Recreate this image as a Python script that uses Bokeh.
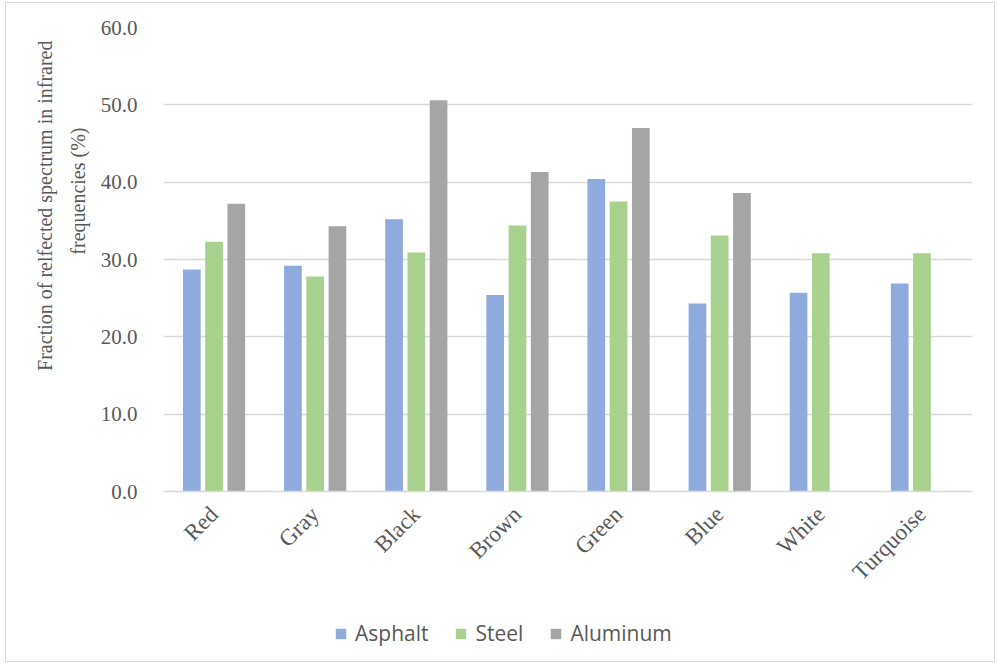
from bokeh.plotting import figure
from bokeh.layouts import column
from bokeh.models import (ColumnDataSource, FactorRange, Legend, LegendItem,
                          NumeralTickFormatter, FixedTicker, Title)
from bokeh.transform import dodge
from bokeh.embed import file_html
from bokeh.resources import INLINE

# Reflected infrared fraction (%) per roof colour and substrate
colors = ["Red", "Gray", "Black", "Brown", "Green", "Blue", "White", "Turquoise"]
asphalt = [28.7, 29.2, 35.2, 25.4, 40.4, 24.3, 25.7, 26.9]
steel = [32.3, 27.8, 30.9, 34.4, 37.5, 33.1, 30.8, 30.8]
aluminum = [37.2, 34.3, 50.6, 41.3, 47.0, 38.6, None, None]

series = [
    ("Asphalt", asphalt, "#8FAADC", -0.22),
    ("Steel", steel, "#A9D18E", 0.0),
    ("Aluminum", aluminum, "#A5A5A5", 0.22),
]

TEXT = "#595959"
GRID = "#D9D9D9"
SERIF = "Liberation Serif"

p = figure(
    x_range=FactorRange(*colors, range_padding=0),
    y_range=(0, 60),
    width=988, height=605,
    output_backend="svg", toolbar_location=None,
    min_border_left=157, min_border_right=22,
    min_border_top=24, min_border_bottom=117,
)
p.outline_line_color = None
p.background_fill_color = "white"
p.border_fill_color = "white"

for name, vals, col, off in series:
    xs = [c for c, v in zip(colors, vals) if v is not None]
    ys = [v for v in vals if v is not None]
    src = ColumnDataSource(dict(x=xs, top=ys))
    p.vbar(x=dodge("x", off, range=p.x_range), top="top", bottom=0,
           width=0.175, source=src, fill_color=col, line_color=None)

# grid
p.xgrid.grid_line_color = None
p.ygrid.grid_line_color = GRID
p.ygrid.grid_line_width = 1.5

# y axis
p.yaxis.ticker = FixedTicker(ticks=[0, 10, 20, 30, 40, 50, 60])
p.yaxis.formatter = NumeralTickFormatter(format="0.0")
p.yaxis.axis_line_color = None
p.yaxis.major_tick_line_color = None
p.yaxis.minor_tick_line_color = None
p.yaxis.major_label_text_font = SERIF
p.yaxis.major_label_text_font_size = "21px"
p.yaxis.major_label_text_color = TEXT
p.yaxis.major_label_standoff = 20

# two-line y title, stacked outward from the axis
for line, off, so in [("frequencies (%)", 100, 18),
                      ("Fraction of relfected spectrum in infrared", 13, 0)]:
    p.add_layout(Title(text=line, align="right", offset=off, standoff=so,
                       text_font=SERIF, text_font_size="20px",
                       text_font_style="normal", text_color=TEXT), "left")

# x axis
p.xaxis.axis_line_color = GRID
p.xaxis.axis_line_width = 1.5
p.xaxis.major_tick_line_color = None
p.xaxis.minor_tick_line_color = None
p.xaxis.major_label_orientation = 0.785398
p.xaxis.major_label_text_font = SERIF
p.xaxis.major_label_text_font_size = "23px"
p.xaxis.major_label_text_color = TEXT
p.xaxis.major_label_standoff = 13

# legend strip under the chart; its swatch renderers are zero-height bars
lg = figure(width=988, height=53, x_range=(0, 1), y_range=(0, 1),
            output_backend="svg", toolbar_location=None,
            x_axis_location=None, y_axis_location=None, min_border=0)
lg.outline_line_color = None
lg.grid.visible = False
items = []
for name, vals, col, off in series:
    r = lg.vbar(x=[0.5], top=[0.5], bottom=[0.5], width=0.0,
                fill_color=col, line_color=None)
    items.append(LegendItem(label=name, renderers=[r]))
legend = Legend(items=items, orientation="horizontal", location=(171, 14),
                label_text_font="Open Sans", label_text_font_size="21px",
                label_text_color=TEXT, glyph_width=13, glyph_height=13,
                label_standoff=8, spacing=26, padding=0, margin=0,
                border_line_color=None, background_fill_alpha=0)
lg.add_layout(legend, "center")

page = column(p, lg, spacing=0, margin=(2, 0, 0, 5),
              styles={"border": "1px solid #D9D9D9"})

open("out.html", "w").write(file_html(page, INLINE))
